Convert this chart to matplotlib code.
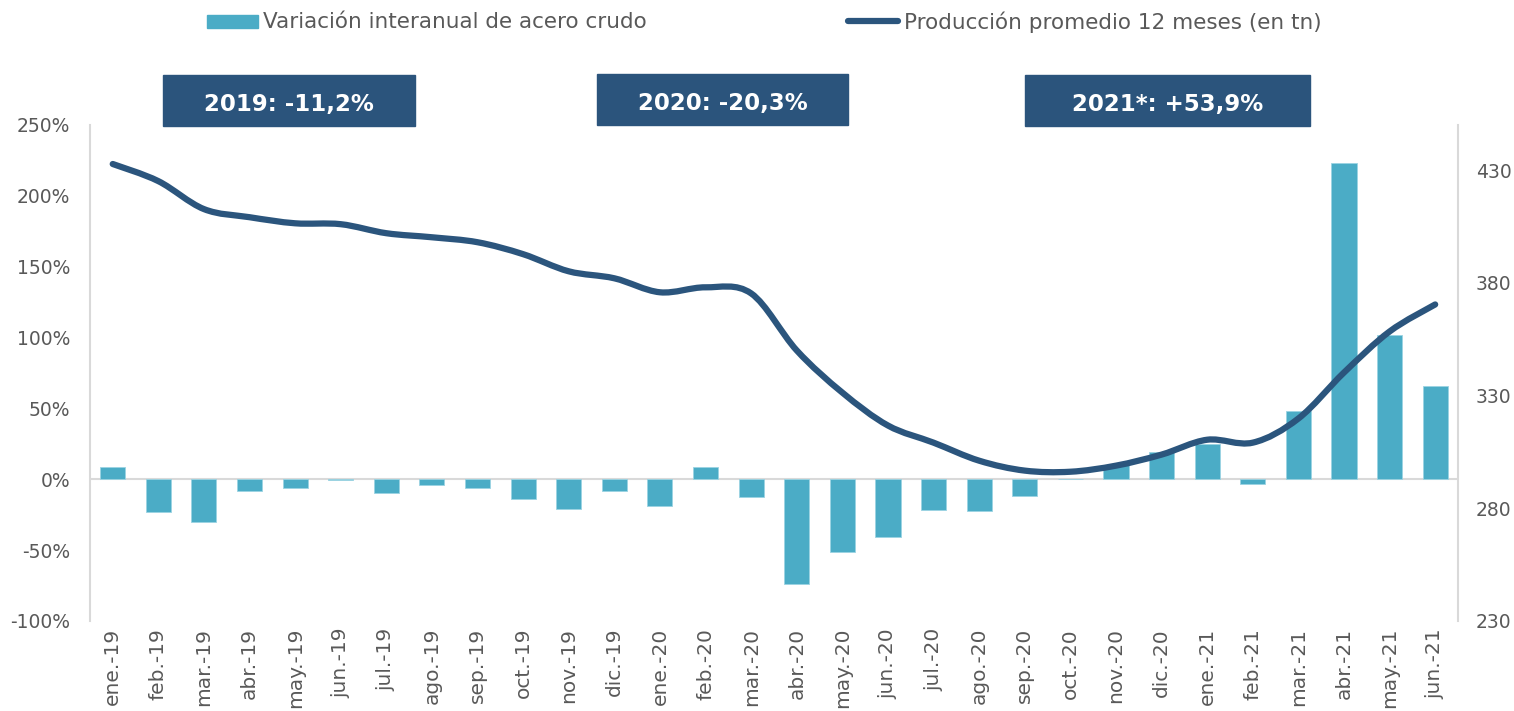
import numpy as np
import matplotlib.pyplot as plt
from matplotlib.path import Path
from matplotlib.patches import PathPatch, Rectangle
from matplotlib.lines import Line2D
from matplotlib.ticker import FuncFormatter

meses = ['ene.-19', 'feb.-19', 'mar.-19', 'abr.-19', 'may.-19', 'jun.-19',
         'jul.-19', 'ago.-19', 'sep.-19', 'oct.-19', 'nov.-19', 'dic.-19',
         'ene.-20', 'feb.-20', 'mar.-20', 'abr.-20', 'may.-20', 'jun.-20',
         'jul.-20', 'ago.-20', 'sep.-20', 'oct.-20', 'nov.-20', 'dic.-20',
         'ene.-21', 'feb.-21', 'mar.-21', 'abr.-21', 'may.-21', 'jun.-21']

# variacion interanual (%)
variacion = [8.5, -23, -30, -8.5, -6.5, -0.5, -9.5, -4, -6, -14, -21, -8,
             -19, 8.5, -12.5, -74, -51.5, -41, -22, -22.5, -11.5, 0.3,
             10, 19, 25, -3.5, 48, 223.5, 101.5, 66]

# produccion promedio 12 meses (tn)
promedio = [432.7, 425.1, 412.7, 409.1, 406.4, 406.0, 402.0, 400.2, 398.0,
            392.7, 385.1, 382.0, 375.8, 378.0, 375.3, 350.0, 331.3, 316.7,
            309.1, 301.1, 296.7, 296.2, 298.9, 303.8, 310.4, 309.1, 319.8,
            340.2, 358.4, 370.4]

anuales = ['2019: -11,2%', '2020: -20,3%', '2021*: +53,9%']

c_bar = '#4BACC6'
c_line = '#2B557D'
c_txt = '#595959'
c_axis = '#D9D9D9'

fig = plt.figure(figsize=(15.14, 7.11), dpi=100)
ax = fig.add_axes([0.0594, 0.1266, 0.9036, 0.6976])
ax2 = ax.twinx()

x = np.arange(len(meses))
ax.bar(x, variacion, width=0.55, color=c_bar, edgecolor='#9BD3E2', linewidth=0.6, zorder=2)
ax.axhline(0, color=c_axis, lw=1.5, zorder=1)
ax.set_ylim(-100, 250)
ax.set_yticks(np.arange(-100, 251, 50))
ax.yaxis.set_major_formatter(FuncFormatter(lambda v, p: f'{v:.0f}%'))
ax.set_xlim(-0.5, len(meses) - 0.5)
ax.set_xticks(x)
ax.set_xticklabels(meses, rotation=90)

# linea suavizada (bezier tipo excel) por los puntos
y = np.array(promedio)
verts = [(x[0], y[0])]
codes = [Path.MOVETO]
n = len(y)
for i in range(n - 1):
    p0 = np.array([x[max(i - 1, 0)], y[max(i - 1, 0)]])
    p1 = np.array([x[i], y[i]])
    p2 = np.array([x[i + 1], y[i + 1]])
    p3 = np.array([x[min(i + 2, n - 1)], y[min(i + 2, n - 1)]])
    c1 = p1 + (p2 - p0) / 6
    c2 = p2 - (p3 - p1) / 6
    verts += [tuple(c1), tuple(c2), tuple(p2)]
    codes += [Path.CURVE4] * 3
ax2.add_patch(PathPatch(Path(verts, codes), fill=False, edgecolor=c_line,
                        lw=4.5, capstyle='round', joinstyle='round', zorder=3))
ax2.set_ylim(230, 450)
ax2.set_yticks([230, 280, 330, 380, 430])

for a in (ax, ax2):
    for s in a.spines.values():
        s.set_visible(False)
    a.tick_params(length=0, labelsize=13.5, labelcolor=c_txt)
ax.spines['left'].set_visible(True)
ax.spines['left'].set_color(c_axis)
ax.spines['left'].set_linewidth(1.5)
ax2.spines['right'].set_visible(True)
ax2.spines['right'].set_color(c_axis)
ax2.spines['right'].set_linewidth(1.5)
ax.tick_params(axis='y', pad=14)
ax.tick_params(axis='x', pad=5, labelsize=14.5)
ax2.tick_params(axis='y', pad=13)

# cajas con variacion anual
cajas = [(163, 75, 252, 51), (597, 74, 251, 51), (1025, 75, 285, 51)]
W, H = 1514, 711
for (bx, by, bw, bh), t in zip(cajas, anuales):
    fig.add_artist(Rectangle((bx / W, 1 - (by + bh) / H), bw / W, bh / H,
                             transform=fig.transFigure, color='#2B547C', zorder=5))
    fig.text((bx + bw / 2) / W, 1 - (by + bh / 2 + 4) / H, t, color='white',
             fontsize=16.5, fontweight='bold', ha='center', va='center', zorder=6)

# leyenda
fig.add_artist(Rectangle((207 / W, 1 - 28 / H), 51 / W, 13 / H,
                         transform=fig.transFigure, color=c_bar))
fig.text(263 / W, 1 - 22 / H, 'Variación interanual de acero crudo',
         fontsize=15.5, color=c_txt, va='center')
fig.add_artist(Line2D([848 / W, 898 / W], [1 - 21 / H, 1 - 21 / H],
                      transform=fig.transFigure, color=c_line, lw=4.5,
                      solid_capstyle='round'))
fig.text(904 / W, 1 - 22 / H, 'Producción promedio 12 meses (en tn)',
         fontsize=15.5, color=c_txt, va='center')

fig.savefig('out.png', dpi=100)
